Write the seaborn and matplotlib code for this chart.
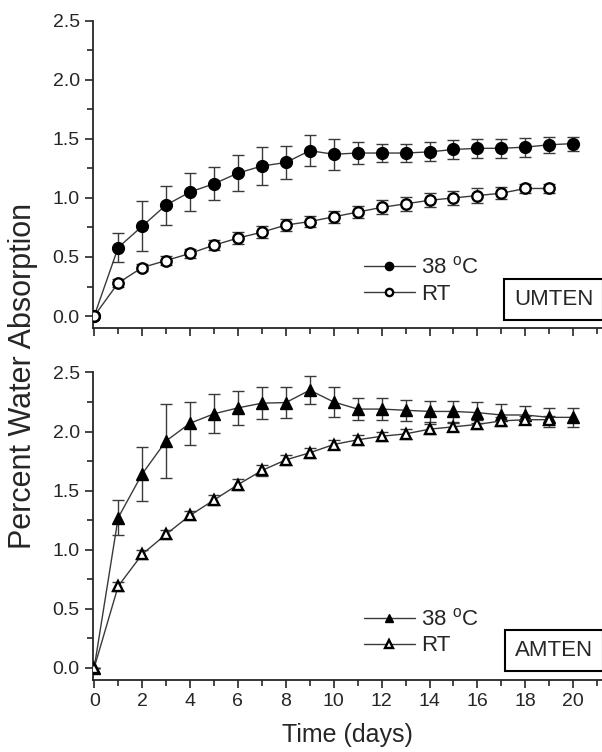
import numpy as np
import pandas as pd
import seaborn as sns
import matplotlib
matplotlib.use("Agg")
import matplotlib.pyplot as plt
from matplotlib.ticker import MultipleLocator

# UMTEN panel
days_38 = list(range(21))
days_rt = list(range(20))
umten_38 = [0, 0.58, 0.76, 0.94, 1.05, 1.12, 1.21, 1.27, 1.30, 1.40, 1.37, 1.38, 1.38, 1.38, 1.39, 1.41, 1.42, 1.42, 1.43, 1.45, 1.46]
umten_38_err = [0, 0.12, 0.21, 0.165, 0.16, 0.14, 0.15, 0.16, 0.14, 0.13, 0.13, 0.09, 0.08, 0.08, 0.08, 0.08, 0.08, 0.08, 0.08, 0.07, 0.06]
umten_rt = [0, 0.28, 0.41, 0.47, 0.53, 0.60, 0.66, 0.71, 0.77, 0.80, 0.84, 0.88, 0.92, 0.95, 0.98, 1.00, 1.02, 1.04, 1.08, 1.08]
umten_rt_err = [0, 0.03, 0.03, 0.04, 0.04, 0.045, 0.05, 0.05, 0.05, 0.05, 0.05, 0.05, 0.06, 0.06, 0.06, 0.06, 0.06, 0.05, 0.04, 0.04]

# AMTEN panel
amten_38 = [0, 1.27, 1.64, 1.92, 2.07, 2.15, 2.20, 2.24, 2.245, 2.35, 2.25, 2.19, 2.19, 2.18, 2.17, 2.17, 2.16, 2.14, 2.14, 2.12, 2.12]
amten_38_err = [0, 0.15, 0.23, 0.31, 0.18, 0.165, 0.145, 0.135, 0.13, 0.12, 0.13, 0.09, 0.09, 0.09, 0.09, 0.09, 0.09, 0.09, 0.08, 0.08, 0.08]
amten_rt = [0, 0.69, 0.96, 1.13, 1.29, 1.42, 1.55, 1.67, 1.76, 1.82, 1.89, 1.93, 1.96, 1.98, 2.02, 2.04, 2.06, 2.09, 2.10, 2.10]
amten_rt_err = [0, 0.04, 0.04, 0.04, 0.04, 0.045, 0.045, 0.045, 0.04, 0.04, 0.04, 0.04, 0.04, 0.04, 0.04, 0.035, 0.035, 0.035, 0.035, 0.035]

sns.set_style("ticks")
plt.rcParams['font.family'] = ['Liberation Sans', 'DejaVu Sans']
plt.rcParams['mathtext.fontset'] = 'custom'
plt.rcParams['mathtext.rm'] = 'Liberation Sans'

fig = plt.figure(figsize=(6.02, 7.52), dpi=100)
ax1 = fig.add_axes([0.1545, 0.5634, 0.8455, 0.409])
ax2 = fig.add_axes([0.1545, 0.0957, 0.8455, 0.409])

line_c = '#3a3a3a'


def panel(ax, y38, e38, yrt, ert, mk, name):
    ax.errorbar(days_38, y38, yerr=e38, fmt='none', ecolor=line_c, elinewidth=1, capsize=4, capthick=1, zorder=1)
    ax.errorbar(days_rt, yrt, yerr=ert, fmt='none', ecolor=line_c, elinewidth=1, capsize=4, capthick=1, zorder=1)
    sns.lineplot(x=days_38, y=y38, ax=ax, color=line_c, lw=1, marker=mk, markersize=8.5,
                 markerfacecolor='black', markeredgecolor='black', markeredgewidth=1,
                 errorbar=None, label='38 $^{\\rm o}$C', zorder=3)
    sns.lineplot(x=days_rt, y=yrt, ax=ax, color=line_c, lw=1, marker=mk, markersize=7.5,
                 markerfacecolor='white', markeredgecolor='black', markeredgewidth=1.7,
                 errorbar=None, label='RT', zorder=3)
    ax.set_xlim(-0.05, 21.2)
    ax.set_ylim(-0.104, 2.5)
    ax.xaxis.set_major_locator(MultipleLocator(2))
    ax.xaxis.set_minor_locator(MultipleLocator(1))
    ax.yaxis.set_major_locator(MultipleLocator(0.5))
    ax.yaxis.set_minor_locator(MultipleLocator(0.25))
    ax.yaxis.set_major_formatter(matplotlib.ticker.FormatStrFormatter('%.1f'))
    ax.tick_params(which='major', direction='out', length=6, width=1.2, labelsize=14)
    ax.tick_params(which='minor', direction='out', length=4, width=1.2)
    for s in ['left', 'bottom']:
        ax.spines[s].set_linewidth(1.3)
    sns.despine(ax=ax)
    ax.legend(loc='center left', bbox_to_anchor=(0.51, 0.155), frameon=False, fontsize=16,
              handlelength=2.3, handletextpad=0.3, labelspacing=0.22, borderpad=0, markerscale=0.7)
    ax.text(0.905, 0.095, name, transform=ax.transAxes, ha='center', va='center', fontsize=16,
            bbox=dict(boxstyle='square,pad=0.45', fc='white', ec='black', lw=1.5))
    ax.set_xlabel('')
    ax.set_ylabel('')


panel(ax1, umten_38, umten_38_err, umten_rt, umten_rt_err, 'o', 'UMTEN')
panel(ax2, amten_38, amten_38_err, amten_rt, amten_rt_err, '^', 'AMTEN')
ax1.tick_params(axis='x', labelbottom=False)
ax2.set_xlabel('Time (days)', fontsize=18, labelpad=9)
fig.text(0.038, 0.5, 'Percent Water Absorption', rotation=90, ha='center', va='center', fontsize=22)

fig.savefig('out.png', dpi=100)
